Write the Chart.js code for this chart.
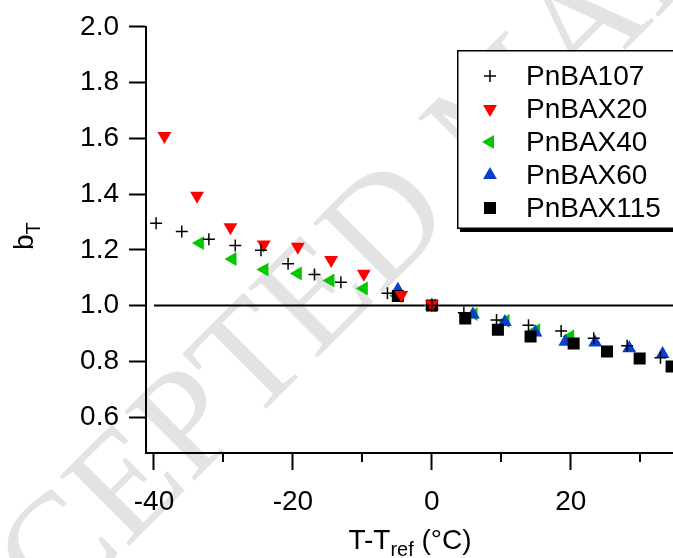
<!DOCTYPE html>
<html>
<head>
<meta charset="utf-8">
<title>bT shift factors</title>
<script src="https://cdn.jsdelivr.net/npm/chart.js@4.4.1/dist/chart.umd.min.js"></script>
<style>
  html, body { margin: 0; padding: 0; background: #fff; overflow: hidden; }
  #wrap { width: 673px; height: 558px; }
  canvas { display: block; }
</style>
</head>
<body>
<div id="wrap"><canvas id="shiftChart" width="673" height="558"></canvas></div>
<script>
// Vertical shift factor bT against T - Tref for each sample

const FONT = '"Liberation Sans", Arial, Helvetica, sans-serif';
const STAMP_FONT = '"Liberation Serif", "Times New Roman", serif';

const seriesNames = ['PnBA107', 'PnBAX20', 'PnBAX40', 'PnBAX60', 'PnBAX115'];

const tempBA107 = [-39.7, -36.0, -32.1, -28.3, -24.6, -20.7, -16.9, -13.1, -6.4, 0, 4.6, 9.3, 13.9, 18.6, 23.3, 28.1, 32.9];
const bTBA107   = [1.295, 1.266, 1.238, 1.215, 1.198, 1.150, 1.111, 1.084, 1.044, 1.0, 0.974, 0.948, 0.929, 0.909, 0.883, 0.856, 0.813];

const tempX20 = [-38.5, -33.8, -29.0, -24.2, -19.3, -14.5, -9.8, -4.4, 0];
const bTX20   = [1.608, 1.394, 1.281, 1.219, 1.211, 1.163, 1.114, 1.038, 1.004];

const tempX40 = [-33.4, -28.7, -24.1, -19.3, -14.6, -9.8, -5.0, 0, 6.0, 10.6, 15.0, 19.9];
const bTX40   = [1.224, 1.167, 1.129, 1.115, 1.090, 1.061, 1.035, 1.0, 0.969, 0.945, 0.912, 0.889];

const tempX60 = [-4.9, 0, 5.9, 10.5, 14.9, 19.2, 23.5, 28.4, 33.2];
const bTX60   = [1.057, 1.0, 0.968, 0.941, 0.903, 0.870, 0.867, 0.847, 0.826];

const tempX115 = [-4.9, 0, 4.8, 9.5, 14.2, 20.4, 25.2, 29.9, 34.5];
const bTX115   = [1.034, 1.0, 0.954, 0.913, 0.889, 0.864, 0.835, 0.810, 0.781];

// reference line at bT = 1
const refLineT  = [-40, 34.7];
const refLineBT = [1.0, 1.0];

const xTicks = [-40, -30, -20, -10, 0, 10, 20, 30];
const xTickLabels = [-40, -20, 0, 20];
const yTicks = [0.6, 0.8, 1.0, 1.2, 1.4, 1.6, 1.8, 2.0];

const toPoints = (xs, ys) => xs.map((x, i) => ({ x: x, y: ys[i] }));

// minor x ticks are shorter, so they get drawn by hand
const minorTicks = {
  id: 'minorTicks',
  afterDraw(chart) {
    const ctx = chart.ctx;
    const xs = chart.scales.x;
    const bottom = chart.chartArea.bottom;
    ctx.save();
    ctx.strokeStyle = '#000';
    ctx.lineWidth = 2;
    xTicks.filter(v => !xTickLabels.includes(v)).forEach(v => {
      const px = Math.round(xs.getPixelForValue(v));
      ctx.beginPath();
      ctx.moveTo(px, bottom);
      ctx.lineTo(px, bottom + 9);
      ctx.stroke();
    });
    ctx.restore();
  }
};

// faint diagonal stamp behind the plot
const stamp = {
  id: 'stamp',
  beforeDraw(chart) {
    const ctx = chart.ctx;
    ctx.save();
    ctx.fillStyle = '#e3e3e3';
    ctx.font = '150px ' + STAMP_FONT;
    ctx.translate(470, 205);
    ctx.rotate(-Math.PI / 4);
    ctx.textBaseline = 'alphabetic';
    ctx.textAlign = 'right';
    ctx.fillText('ACCEPTED', -20, 0);
    ctx.textAlign = 'left';
    ctx.fillText('MANUSCRIPT', 20, 0);
    ctx.restore();
  }
};

// axis titles with subscripts
const axisTitles = {
  id: 'axisTitles',
  afterDraw(chart) {
    const ctx = chart.ctx;
    const big = '28px ' + FONT;
    const small = '20px ' + FONT;
    ctx.save();
    ctx.fillStyle = '#000';
    ctx.textBaseline = 'alphabetic';
    ctx.textAlign = 'left';

    // x title: T-Tref (°C)
    ctx.font = big;
    const w1 = ctx.measureText('T-T').width;
    const w3 = ctx.measureText(' (°C)').width;
    ctx.font = small;
    const w2 = ctx.measureText('ref').width;
    let x = 410 - (w1 + w2 + w3) / 2;
    const base = 549;
    ctx.font = big;
    ctx.fillText('T-T', x, base);
    x += w1;
    ctx.font = small;
    ctx.fillText('ref', x, base + 7);
    x += w2;
    ctx.font = big;
    ctx.fillText(' (°C)', x, base);

    // y title: bT, rotated
    ctx.translate(33, 250);
    ctx.rotate(-Math.PI / 2);
    ctx.font = big;
    ctx.fillText('b', 0, 0);
    const wb = ctx.measureText('b').width;
    ctx.font = small;
    ctx.fillText('T', wb, 7);
    ctx.restore();
  }
};

// boxed legend running off the right edge, with a drop shadow underneath
const legendBox = {
  id: 'legendBox',
  afterDraw(chart) {
    const ctx = chart.ctx;
    const left = 457, top = 50, bottom = 229;
    const right = chart.width + 20;
    ctx.save();
    ctx.fillStyle = '#000';
    ctx.fillRect(left + 3, bottom - 2, right - left, 5);
    ctx.fillRect(left + 3, top + 3, 2, bottom - top);
    ctx.fillStyle = '#fff';
    ctx.fillRect(left, top, right - left, bottom - top);
    ctx.strokeStyle = '#000';
    ctx.lineWidth = 1.5;
    ctx.beginPath();
    ctx.moveTo(right, top + 0.75);
    ctx.lineTo(left + 0.75, top + 0.75);
    ctx.lineTo(left + 0.75, bottom - 0.75);
    ctx.lineTo(right, bottom - 0.75);
    ctx.stroke();

    ctx.font = '28px ' + FONT;
    ctx.textBaseline = 'middle';
    ctx.textAlign = 'left';
    seriesNames.forEach((name, i) => {
      const ds = chart.data.datasets[i];
      const cy = 76 + i * 33;
      ctx.fillStyle = ds.backgroundColor;
      ctx.strokeStyle = ds.borderColor;
      ctx.lineWidth = ds.borderWidth;
      const opts = {
        pointStyle: ds.pointStyle,
        rotation: ds.rotation || 0,
        radius: ds.pointRadius,
        borderWidth: ds.borderWidth
      };
      if (Chart.helpers && Chart.helpers.drawPoint) {
        Chart.helpers.drawPoint(ctx, opts, 490, cy);
      }
      ctx.fillStyle = '#000';
      ctx.fillText(name, 526, cy + 1);
    });
    ctx.restore();
  }
};

new Chart(document.getElementById('shiftChart'), {
  type: 'scatter',
  data: {
    datasets: [
      {
        label: seriesNames[0],
        data: toPoints(tempBA107, bTBA107),
        pointStyle: 'cross',
        pointRadius: 6,
        borderWidth: 1.5,
        borderColor: '#000',
        backgroundColor: '#000',
        order: 0
      },
      {
        label: seriesNames[1],
        data: toPoints(tempX20, bTX20),
        pointStyle: 'triangle',
        rotation: 180,
        pointRadius: 8,
        borderWidth: 0,
        borderColor: '#ff0000',
        backgroundColor: '#ff0000',
        order: 1
      },
      {
        label: seriesNames[2],
        data: toPoints(tempX40, bTX40),
        pointStyle: 'triangle',
        rotation: -90,
        pointRadius: 8,
        borderWidth: 0,
        borderColor: '#00c800',
        backgroundColor: '#00c800',
        order: 4
      },
      {
        label: seriesNames[3],
        data: toPoints(tempX60, bTX60),
        pointStyle: 'triangle',
        rotation: 0,
        pointRadius: 8,
        borderWidth: 0,
        borderColor: '#0a3fd0',
        backgroundColor: '#0a3fd0',
        order: 3
      },
      {
        label: seriesNames[4],
        data: toPoints(tempX115, bTX115),
        pointStyle: 'rect',
        pointRadius: 8.5,
        borderWidth: 0,
        borderColor: '#000',
        backgroundColor: '#000',
        order: 2
      },
      {
        label: 'bT = 1',
        data: toPoints(refLineT, refLineBT),
        showLine: true,
        pointRadius: 0,
        borderWidth: 2,
        borderColor: '#000',
        backgroundColor: '#000',
        order: 5
      }
    ]
  },
  options: {
    responsive: false,
    animation: false,
    events: [],
    layout: {
      autoPadding: false,
      padding: { top: 24, right: 0, bottom: 0, left: 0 }
    },
    plugins: {
      legend: { display: false },
      tooltip: { enabled: false }
    },
    scales: {
      x: {
        type: 'linear',
        min: -41.15,
        max: 34.7,
        afterBuildTicks: s => { s.ticks = xTicks.map(v => ({ value: v })); },
        afterFit: s => { s.height = 105; },
        ticks: {
          autoSkip: false,
          maxRotation: 0,
          padding: 15,
          color: '#000',
          font: { family: FONT, size: 28 },
          callback: v => xTickLabels.includes(v) ? String(v) : ''
        },
        grid: {
          drawOnChartArea: false,
          drawTicks: true,
          tickLength: 17,
          tickWidth: 2,
          tickColor: c => (c.tick && xTickLabels.includes(c.tick.value)) ? '#000' : 'rgba(0,0,0,0)'
        },
        border: { display: true, color: '#000', width: 2 }
      },
      y: {
        type: 'linear',
        min: 0.471,
        max: 2.0,
        afterBuildTicks: s => { s.ticks = yTicks.map(v => ({ value: v })); },
        afterFit: s => { s.width = 146; },
        ticks: {
          autoSkip: false,
          padding: 10,
          color: '#000',
          font: { family: FONT, size: 28 },
          callback: v => v.toFixed(1)
        },
        grid: {
          drawOnChartArea: false,
          drawTicks: true,
          tickLength: 17,
          tickWidth: 2,
          tickColor: '#000'
        },
        border: { display: true, color: '#000', width: 2 }
      }
    }
  },
  plugins: [stamp, minorTicks, axisTitles, legendBox]
});
</script>
</body>
</html>
